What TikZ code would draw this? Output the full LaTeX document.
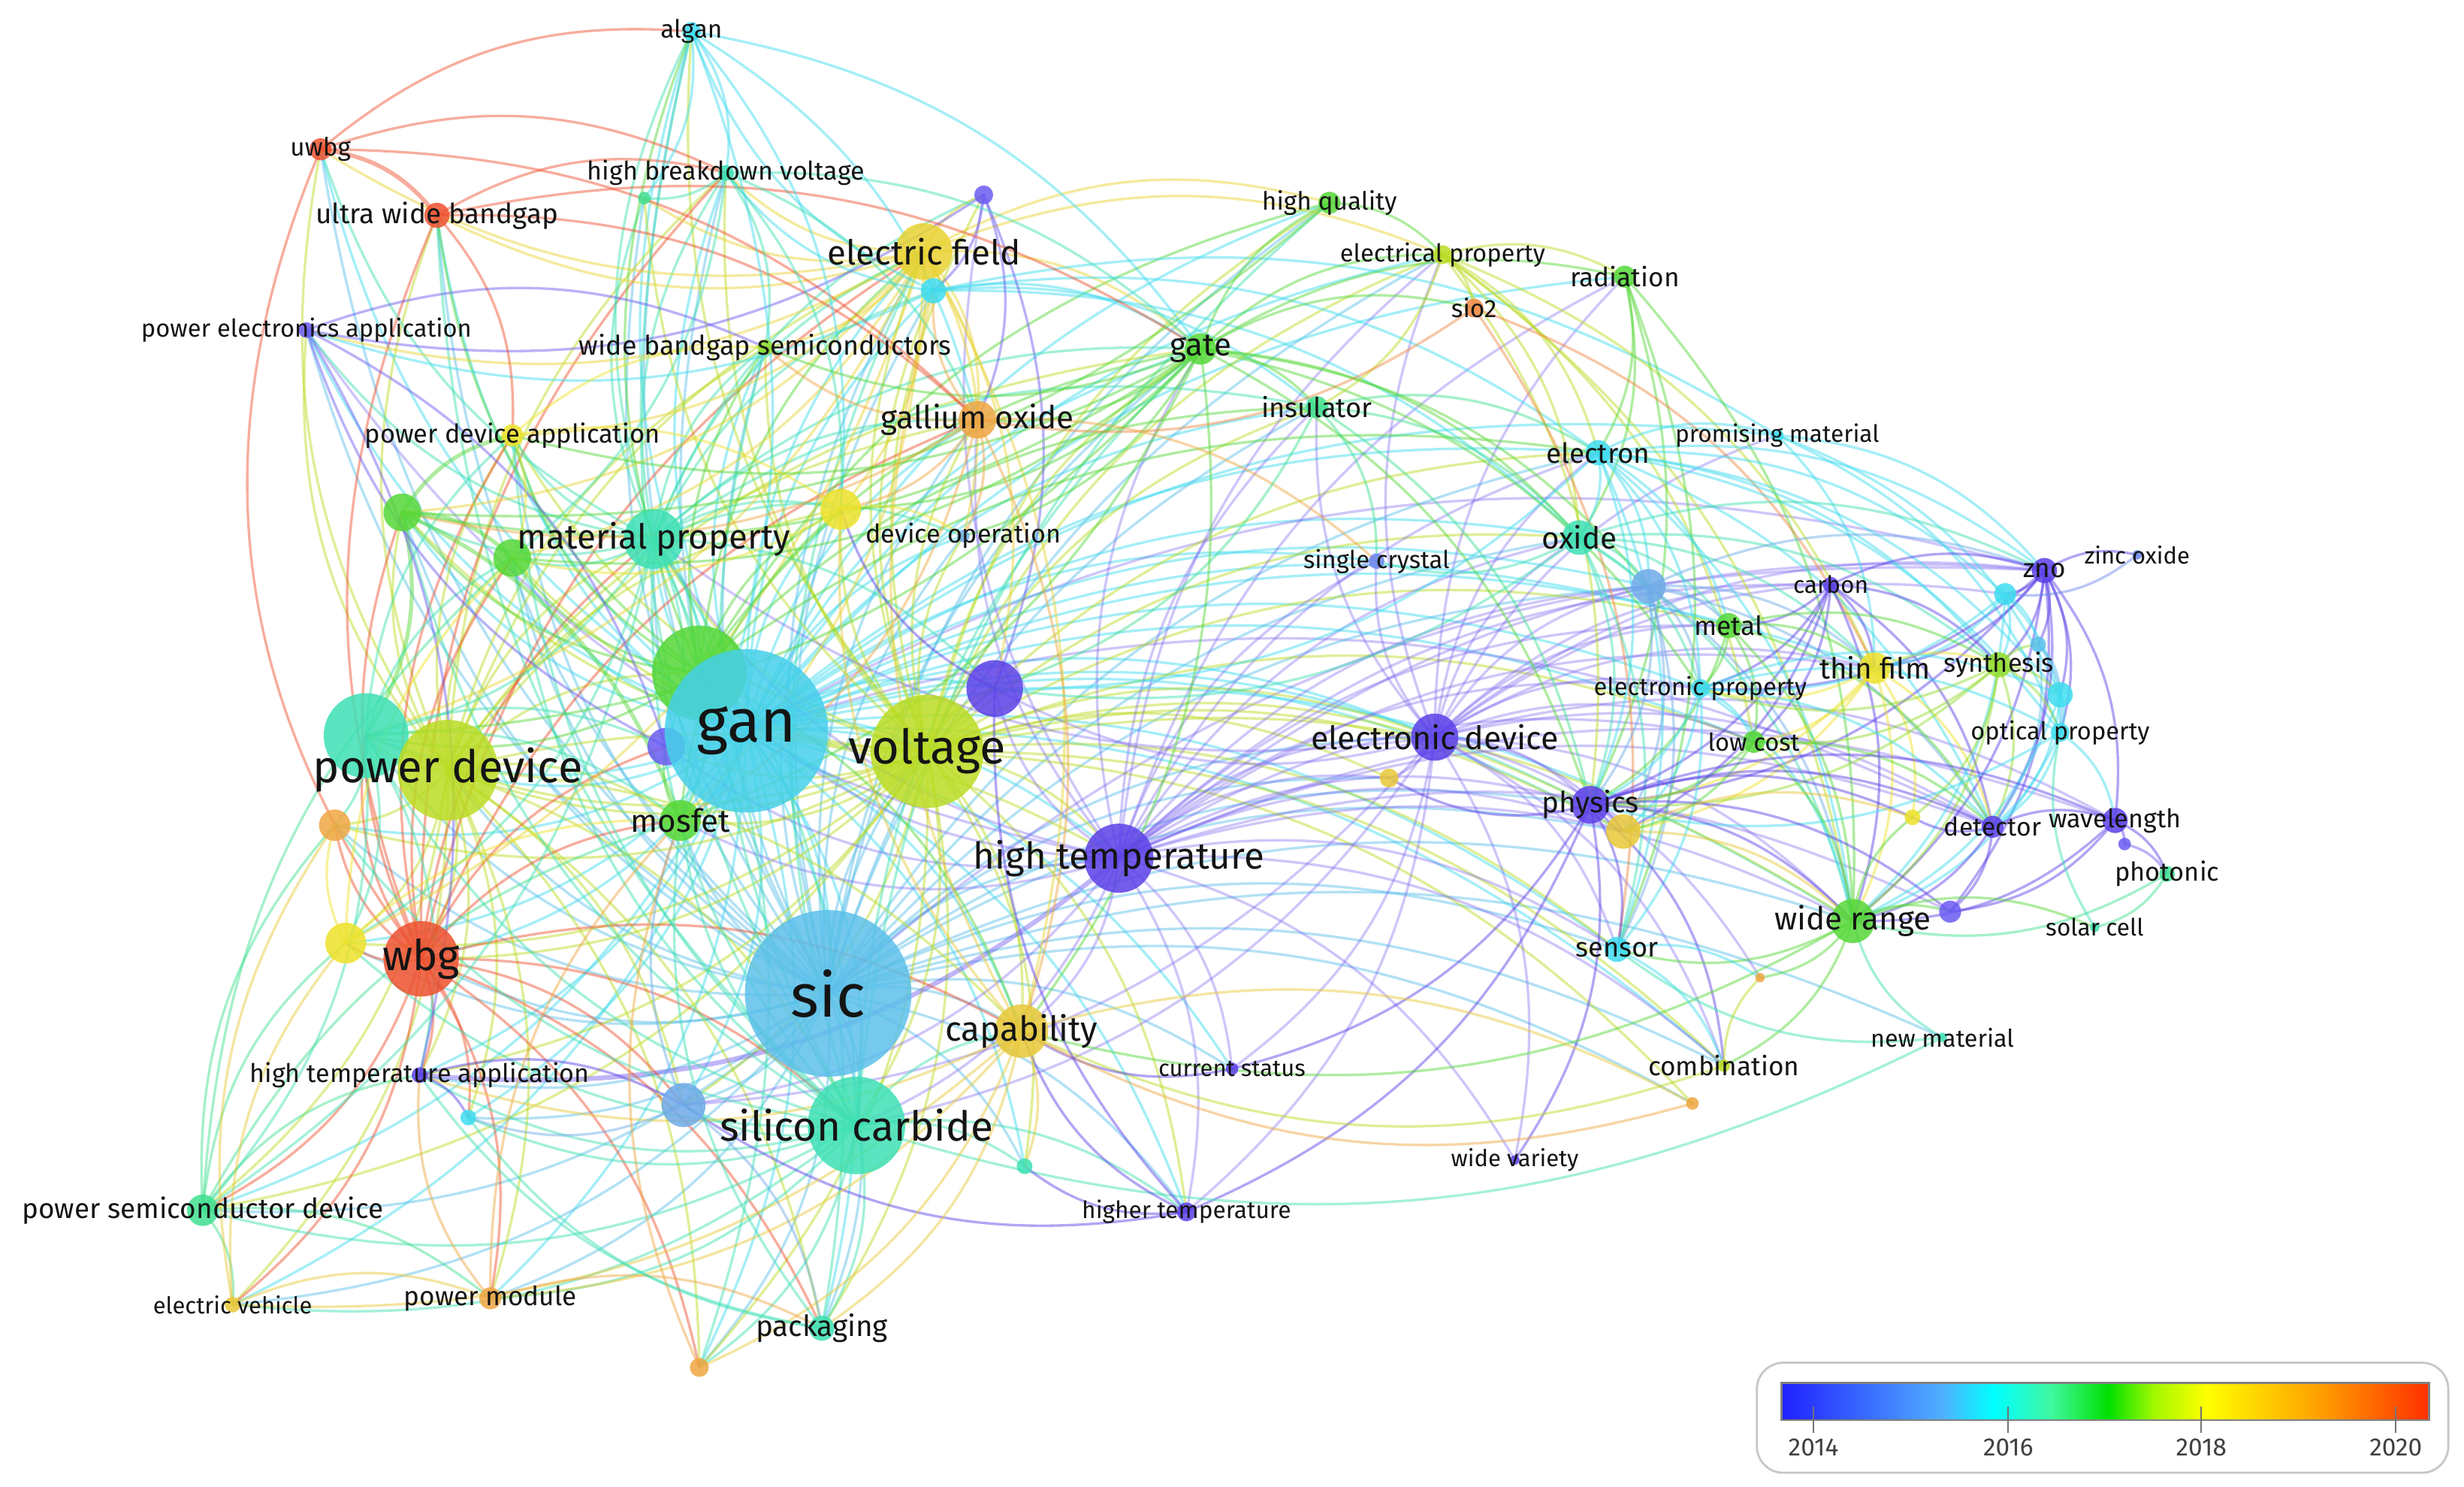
\documentclass[tikz,border=0pt]{standalone}
\usepackage{fontspec}
\setmainfont{Fira Sans}
\definecolor{cPur}{HTML}{5C40E8}
\definecolor{cPurB}{HTML}{6B5CF2}
\definecolor{cBlue}{HTML}{6C86EC}
\definecolor{cLBlue}{HTML}{5CC0EA}
\definecolor{cSky}{HTML}{6EAAE8}
\definecolor{cCyan}{HTML}{3EDCF0}
\definecolor{cGanC}{HTML}{45D0EA}
\definecolor{cTeal}{HTML}{3EE0B4}
\definecolor{cTealG}{HTML}{40E090}
\definecolor{cGreen}{HTML}{55D838}
\definecolor{cLGreen}{HTML}{92DC2C}
\definecolor{cYG}{HTML}{BBDC24}
\definecolor{cYel}{HTML}{EEE22A}
\definecolor{cGold}{HTML}{E8C838}
\definecolor{cGoldY}{HTML}{E9D332}
\definecolor{cOrange}{HTML}{EFA642}
\definecolor{cOrangeR}{HTML}{F08844}
\definecolor{cRed}{HTML}{EE5230}
\definecolor{cTxt}{HTML}{141414}
\definecolor{cLav}{HTML}{7A62F0}
\pgfdeclarelayer{paper}
\pgfdeclarelayer{edges}
\pgfsetlayers{paper,edges,main}
\newcommand\nd[5]{\node[nd,fill=#5,minimum size={#4*0.041836cm}] (#1) at (#2,#3) {};}
\newcommand\lb[3]{\node[lbl,font={\fontsize{#2pt}{#2pt}\selectfont}] (#1-l) at (#1.center) {#3};}
\newcommand\E[3]{\foreach \t in {#3}{\draw[ed,draw=#1] (#2.center) to[bend left=22] (\t.center);}}
\newcommand\EL[3]{\foreach \t in {#3}{\draw[ed,draw=#1,draw opacity=0.36] (#2.center) to[bend left=22] (\t.center);}}
\begin{document}
\begin{tikzpicture}[x=0.020918cm,y=-0.020918cm,
  nd/.style={circle,inner sep=0pt,draw=none,fill opacity=0.85},
  lbl/.style={inner sep=0pt,text=cTxt},
  ed/.style={line width=0.95pt,draw opacity=0.47,line cap=round},
  tick/.style={draw=black!55,line width=0.6pt},
  yr/.style={text=black!75,font={\fontsize{9.5pt}{9.5pt}\selectfont},inner sep=0pt}]
\begin{pgfonlayer}{paper}
\fill[white] (0,0) rectangle (1568,946);
\end{pgfonlayer}
\useasboundingbox (0,0) rectangle (1568,946);
% ---------------- nodes ----------------
\nd{algan}{440}{20}{6}{cCyan}
\nd{uwbg}{204}{95}{7}{cRed}
\nd{uwb}{278}{137}{8}{cRed}
\nd{hbv}{462}{110}{5}{cTeal}
\nd{gsm1}{410}{126}{4}{cTealG}
\nd{ef}{588}{160}{18}{cGoldY}
\nd{efc}{594}{185}{8}{cCyan}
\nd{pur1}{626}{124}{6}{cPurB}
\nd{pea}{195}{210}{5}{cPurB}
\nd{wbs}{487}{221}{5}{cLGreen}
\nd{gate}{764}{222}{10}{cGreen}
\nd{hq}{846}{129}{7}{cGreen}
\nd{ep}{918}{162}{6}{cYG}
\nd{rad}{1034}{176}{7}{cGreen}
\nd{sio}{938}{196}{6}{cOrangeR}
\nd{gao}{622}{267}{12}{cOrange}
\nd{ins}{838}{259}{7}{cTealG}
\nd{pda}{326}{277}{7}{cYel}
\nd{pm}{1131}{277}{4}{cCyan}
\nd{elec}{1017}{288}{8}{cCyan}
\nd{g1}{256}{326}{12}{cGreen}
\nd{mp}{416}{343}{19}{cTeal}
\nd{g2}{326}{355}{12}{cGreen}
\nd{y1}{535}{324}{13}{cYel}
\nd{dop}{613}{341}{4}{cSky}
\nd{oxide}{1005}{342}{11}{cTeal}
\nd{sc}{876}{357}{5}{cBlue}
\nd{lb1}{1049}{373}{11}{cSky}
\nd{carbon}{1165}{372}{5}{cPur}
\nd{zno}{1301}{363}{8}{cPur}
\nd{zo}{1360}{353}{3}{cBlue}
\nd{c1}{1276}{378}{7}{cCyan}
\nd{metal}{1100}{398}{8}{cGreen}
\nd{tf}{1193}{425}{10}{cYel}
\nd{syn}{1272}{423}{8}{cLGreen}
\nd{lb2}{1297}{410}{5}{cLBlue}
\nd{c2}{1311}{442}{8}{cCyan}
\nd{eprop}{1082}{438}{6}{cCyan}
\nd{op}{1311}{466}{6}{cCyan}
\nd{gbig}{445}{428}{30}{cGreen}
\nd{p2}{424}{475}{12}{cPurB}
\nd{gan}{475}{465}{52}{cGanC}
\nd{tbig}{233}{468}{27}{cTeal}
\nd{pd}{285}{490}{32}{cYG}
\nd{volt}{590}{478}{36}{cYG}
\nd{p3}{633}{438}{18}{cPur}
\nd{ed}{913}{469}{15}{cPur}
\nd{o1}{884}{495}{6}{cGold}
\nd{lc}{1116}{472}{7}{cGreen}
\nd{mos}{433}{522}{13}{cGreen}
\nd{o2}{213}{525}{10}{cOrange}
\nd{phys}{1012}{512}{12}{cPur}
\nd{o3}{1033}{529}{11}{cGold}
\nd{y2}{1217}{520}{5}{cYel}
\nd{det}{1268}{526}{7}{cPur}
\nd{wl}{1346}{522}{8}{cPur}
\nd{p4}{1352}{537}{4}{cPurB}
\nd{phot}{1379}{556}{5}{cTealG}
\nd{ht}{712}{546}{22}{cPur}
\nd{wr}{1179}{586}{14}{cGreen}
\nd{p5}{1241}{580}{7}{cPurB}
\nd{solar}{1333}{590}{3}{cTeal}
\nd{sensor}{1029}{604}{8}{cCyan}
\nd{y3}{220}{600}{13}{cYel}
\nd{wbg}{268}{610}{24}{cRed}
\nd{sic}{527}{632}{53}{cLBlue}
\nd{cap}{650}{656}{17}{cGold}
\nd{o4}{1120}{622}{3}{cOrange}
\nd{nm}{1236}{660}{3}{cTeal}
\nd{cs}{784}{680}{4}{cPur}
\nd{comb}{1097}{678}{4}{cYG}
\nd{hta}{267}{684}{5}{cPur}
\nd{c3}{298}{711}{5}{cCyan}
\nd{lb3}{435}{703}{14}{cSky}
\nd{scb}{545}{716}{31}{cTeal}
\nd{o5}{1077}{702}{4}{cOrange}
\nd{t1}{652}{742}{5}{cTeal}
\nd{wv}{964}{738}{3}{cPur}
\nd{psd}{129}{770}{10}{cTealG}
\nd{highT}{755}{771}{6}{cPur}
\nd{ev}{148}{830}{5}{cGold}
\nd{pmod}{312}{826}{7}{cOrange}
\nd{pack}{523}{845}{8}{cTeal}
\nd{o6}{445}{870}{6}{cOrange}
% ---------------- edges ----------------
\begin{pgfonlayer}{edges}
\E{cCyan}{gan}{algan,uwbg,uwb,hbv,ef,efc,pea,wbs,gate,hq,ep,gao,ins,pda,elec,g1,mp,g2,y1,dop,oxide,sc,lb1,metal,tf,eprop,pd,tbig,volt,p3,ed,mos,o2,phys,ht,wr,sensor,y3,wbg,sic,cap,comb,hta,c3,lb3,scb,t1,psd,highT,ev,pmod,pack,o6,pm,lc,cs,o3,rad}
\EL{cLav}{gan}{zno,det}
\E{cLBlue}{sic}{algan,uwbg,uwb,hbv,ef,efc,pea,wbs,gate,hq,ep,gao,ins,pda,elec,g1,mp,g2,y1,dop,oxide,lb1,pd,tbig,volt,p3,ed,mos,o2,phys,ht,wr,sensor,y3,wbg,cap,comb,hta,c3,lb3,scb,t1,psd,highT,ev,pmod,pack,o6,cs,o5,nm,o3,o1,gsm1}
\EL{cLav}{sic}{zno}
\E{cYG}{volt}{ef,efc,gate,hq,ep,gao,ins,pda,g1,mp,g2,y1,dop,oxide,pd,tbig,p3,ed,mos,o2,phys,ht,wr,y3,wbg,cap,comb,hta,lb3,scb,psd,highT,pack,o6,wbs,pur1,metal,lc,o3,sensor,elec,algan,hbv,t1,o5,o1,gsm1,p2,gbig}
\E{cYG}{pd}{uwbg,uwb,pea,pda,g1,g2,mp,y1,tbig,o2,y3,wbg,mos,ef,gao,gate,hta,psd,ev,pmod,pack,o6,cap,ht,scb,lb3,wbs,hbv,gbig,c3}
\EL{cLav}{ht}{pea,pur1,p3,ed,phys,oxide,elec,lb1,zno,carbon,det,wl,wr,sensor,cs,highT,comb,wv,cap,scb,mp,sc,ins,gate,eprop,p5,o1,o3,lc,metal,tf,ep,rad,gbig,lb3,mos,gao,p2}
\draw[ed,draw=cLav,line width=1.8pt] (ht.center) to[bend left=22] (hta.center);
\EL{cLav}{ed}{p3,phys,zno,carbon,det,lb1,elec,oxide,wr,sensor,eprop,metal,tf,cs,wv,highT,mp,sc,ins,ep,lc,o3,c1,wl,comb,o1,rad,pm,o4,lb3,scb}
\E{cRed}{wbg}{uwb,ef,gao,mp,mos,y3,o2,hta,psd,ev,pmod,pack,scb,cap,lb3,c3,o6,tbig,g1,g2,pda,hbv,p2}
\draw[ed,draw=cRed] (wbg.center) to[bend left=30] (uwbg.center);
\E{cTeal}{scb}{mp,g1,g2,ef,gate,hq,pda,tbig,y3,o2,mos,lb3,hta,psd,ev,pmod,pack,cap,highT,t1,c3,o6,wbs,algan,uwb}
\E{cTeal}{mp}{g1,g2,pda,algan,hbv,gsm1,ef,efc,gate,gao,wbs,y1,tbig,p2,mos,y3,psd,pack,ins,dop,uwbg,pea,p3,gbig,pur1,o6}
\E{cGreen}{gbig}{g1,g2,tbig,mos,gate,ef,y1,wbs,pda,cap,algan,hq,uwb,ins,elec}
\foreach \t in {g2,tbig,mos,pda}{\draw[ed,draw=cGreen,line width=1.5pt] (g1.center) to[bend left=22] (\t.center);}
\E{cTeal}{tbig}{g2,mos,p2,y3,o2,pda,hta,psd}
\E{cGoldY}{ef}{uwb,uwbg,hbv,gsm1,pda,wbs,gate,hq,ep,gao,y1,p3,mos,y3,cap,g1,g2,tbig,efc,dop,pea,pur1}
\E{cCyan}{efc}{algan,hbv,pea,gate,elec,oxide,pm,ins}
\E{cPurB}{pur1}{pea,efc,p3,gao}
\E{cRed}{uwbg}{algan,gao,hbv}
\draw[ed,draw=cRed,line width=1.6pt] (uwbg.center) to[bend left=22] (uwb.center);
\E{cRed}{uwb}{gao,hbv,gate,pda}
\E{cPurB}{pea}{wbs,hta,p2}
\E{cCyan}{algan}{hbv,gsm1,gao,y1,gate,mos}
\E{cTeal}{hbv}{gsm1,gate,gao,wbs,g2,y1}
\E{cGreen}{gate}{hq,ep,rad,sio,ins,gao,y1,dop,g1,g2,tbig,mos,cap,lb1,oxide,phys,wbs,pda,eprop}
\E{cGreen}{hq}{g1,ep}
\E{cYG}{ep}{sio,rad,oxide,ins,phys,wr,tf,elec,lc}
\E{cGreen}{rad}{elec,oxide,phys,sensor,wr}
\E{cOrangeR}{sio}{tf,sensor,gao}
\E{cOrange}{gao}{y1,efc,dop,g1,cap,mos,wbs,sc}
\E{cTealG}{ins}{sc,oxide,phys,elec,p3}
\E{cCyan}{elec}{pm,zno,c1,syn,op,c2,phys,oxide,lb1,sensor,wr,det,p3,eprop,metal}
\E{cCyan}{pm}{zno,c2,tf,op}
\E{cTeal}{oxide}{phys,lb1,metal,sensor,eprop,zno,sc,p3,wr,tf,syn}
\E{cSky}{lb1}{phys,sensor,zno,wr,det,metal,eprop,o3,tf}
\E{cPur}{carbon}{tf,metal,phys,eprop,wr,det,lc,zno,syn,o3}
\E{cPur}{zno}{zo,c1,lb2,syn,op,det,wl,wr,tf,phys,eprop,c2,p5}
\E{cBlue}{zo}{c1}
\E{cCyan}{c1}{syn,op,lb2,tf,wr,eprop}
\E{cGreen}{metal}{tf,phys,wr,syn,eprop,lc,det}
\E{cYel}{tf}{syn,y2,wr,phys,eprop,lc,det,o3}
\E{cLGreen}{syn}{wr,op,det,y2,c2,lb2,lc,eprop,phys}
\E{cLBlue}{lb2}{op,det,c2}
\E{cCyan}{c2}{op,wr,det}
\E{cCyan}{eprop}{phys,lc,wr,sensor,op,c2,o3,det}
\E{cCyan}{op}{wl,det,wr,phys}
\E{cGreen}{lc}{wr,phys,o3,det}
\E{cPur}{phys}{o3,sensor,wr,det,wl,p5,cs,highT,comb,wv,o1,y2}
\E{cGold}{o3}{wr,y2}
\E{cPur}{det}{wl,p5,wr,y2}
\E{cPur}{wl}{p4,phot,wr,p5}
\E{cPurB}{p4}{phot}
\E{cTealG}{phot}{wr,solar}
\E{cGreen}{wr}{p5,solar,sensor,o4,comb,y2,cap}
\E{cTeal}{solar}{op}
\E{cCyan}{sensor}{o4,comb}
\E{cTeal}{nm}{sensor,wr,scb}
\E{cYG}{comb}{cap,o4}
\E{cPur}{cs}{cap}
\E{cOrange}{o5}{cap}
\E{cPur}{highT}{cap,p3,t1,lb3}
\E{cGold}{cap}{efc,y1,o5,pmod,ev,pack,o6,hta,t1}
\E{cPur}{hta}{lb3,c3}
\E{cSky}{lb3}{c3,pack,mos}
\E{cTealG}{psd}{y3,o2,ev,pmod,hta,g2,mos}
\E{cGold}{ev}{y3,o2,pmod}
\E{cOrange}{pmod}{pack,mos,hta}
\E{cTeal}{pack}{c3,hta,mos}
\E{cOrange}{o6}{mos}
\E{cYel}{y3}{o2,mos,g2}
\E{cGreen}{mos}{p2,y1}
\E{cPurB}{p2}{pea}
\E{cPur}{p3}{y1}
\E{cYel}{y1}{dop,g2}
\E{cYel}{pda}{g2,wbs,y1}
\end{pgfonlayer}
% ---------------- labels ----------------
\lb{algan}{9.5}{algan}
\lb{uwbg}{9.5}{uwbg}
\lb{uwb}{10.5}{ultra wide bandgap}
\lb{hbv}{9.7}{high breakdown voltage}
\lb{ef}{13}{electric field}
\lb{pea}{9.3}{power electronics application}
\lb{wbs}{10.2}{wide bandgap semiconductors}
\lb{gate}{12}{gate}
\lb{hq}{9.5}{high quality}
\lb{ep}{9.3}{electrical property}
\lb{rad}{10}{radiation}
\lb{sio}{9.5}{sio2}
\lb{gao}{12}{gallium oxide}
\lb{ins}{10.3}{insulator}
\lb{pda}{9.8}{power device application}
\lb{pm}{9}{promising material}
\lb{elec}{10.5}{electron}
\lb{mp}{13}{material property}
\lb{dop}{9.7}{device operation}
\lb{oxide}{11.5}{oxide}
\lb{sc}{9.3}{single crystal}
\lb{carbon}{9}{carbon}
\lb{zno}{10}{zno}
\lb{zo}{8.8}{zinc oxide}
\lb{metal}{10}{metal}
\lb{tf}{11}{thin film}
\lb{syn}{9.8}{synthesis}
\lb{eprop}{9.3}{electronic property}
\lb{op}{9.3}{optical property}
\lb{gan}{23}{gan}
\lb{pd}{17}{power device}
\lb{volt}{18}{voltage}
\lb{ed}{12.2}{electronic device}
\lb{lc}{9.3}{low cost}
\lb{mos}{12}{mosfet}
\lb{phys}{11}{physics}
\lb{det}{9.6}{detector}
\lb{wl}{9.7}{wavelength}
\lb{phot}{9.8}{photonic}
\lb{ht}{14}{high temperature}
\lb{wr}{12}{wide range}
\lb{solar}{9}{solar cell}
\lb{sensor}{10.3}{sensor}
\lb{wbg}{16}{wbg}
\lb{sic}{23}{sic}
\lb{cap}{13}{capability}
\lb{nm}{9.2}{new material}
\lb{cs}{8.8}{current status}
\lb{comb}{10}{combination}
\lb{hta}{9.7}{high temperature application}
\lb{scb}{15.6}{silicon carbide}
\lb{wv}{8.8}{wide variety}
\lb{psd}{10.5}{power semiconductor device}
\lb{highT}{9}{higher temperature}
\lb{ev}{8.8}{electric vehicle}
\lb{pmod}{10}{power module}
\lb{pack}{11}{packaging}
% ---------------- legend ----------------
\node[draw=black!22,line width=0.8pt,fill=white,rounded corners=10pt,minimum width={440*0.020918cm},minimum height={70*0.020918cm},inner sep=0pt] (legend) at (1338,902) {};
\shade[left color={rgb,255:red,32;green,32;blue,255},right color={rgb,255:red,80;green,176;blue,255}] (1133.5,880) rectangle (1236.5,903.5);
\shade[left color={rgb,255:red,80;green,176;blue,255},right color={rgb,255:red,0;green,255;blue,255}] (1236,880) rectangle (1269.1,903.5);
\shade[left color={rgb,255:red,0;green,255;blue,255},right color={rgb,255:red,64;green,248;blue,160}] (1268.6,880) rectangle (1305.5,903.5);
\shade[left color={rgb,255:red,64;green,248;blue,160},right color={rgb,255:red,0;green,224;blue,0}] (1305,880) rectangle (1342.1,903.5);
\shade[left color={rgb,255:red,0;green,224;blue,0},right color={rgb,255:red,160;green,248;blue,0}] (1341.6,880) rectangle (1370.5,903.5);
\shade[left color={rgb,255:red,160;green,248;blue,0},right color={rgb,255:red,255;green,255;blue,0}] (1370,880) rectangle (1404.1,903.5);
\shade[left color={rgb,255:red,255;green,255;blue,0},right color={rgb,255:red,255;green,160;blue,0}] (1403.6,880) rectangle (1475.5,903.5);
\shade[left color={rgb,255:red,255;green,160;blue,0},right color={rgb,255:red,255;green,48;blue,0}] (1475,880) rectangle (1545.6,903.5);
\node[draw=black!50,line width=0.8pt,inner sep=0pt,minimum width={412.1*0.020918cm},minimum height={23.5*0.020918cm}] (bar) at (1339.55,891.75) {};
\coordinate (t14) at (1154,895);
\coordinate (t16) at (1278,895);
\coordinate (t18) at (1400.8,895);
\coordinate (t20) at (1524.6,895);
\node[yr] (y14) at (1154,921) {2014};
\node[yr] (y16) at (1278,921) {2016};
\node[yr] (y18) at (1400.8,921) {2018};
\node[yr] (y20) at (1524.6,921) {2020};
\foreach \a/\b in {t14/y14,t16/y16,t18/y18,t20/y20}{\draw[tick] (\a) -- ([yshift=2pt]\b.north);}
\end{tikzpicture}
\end{document}
